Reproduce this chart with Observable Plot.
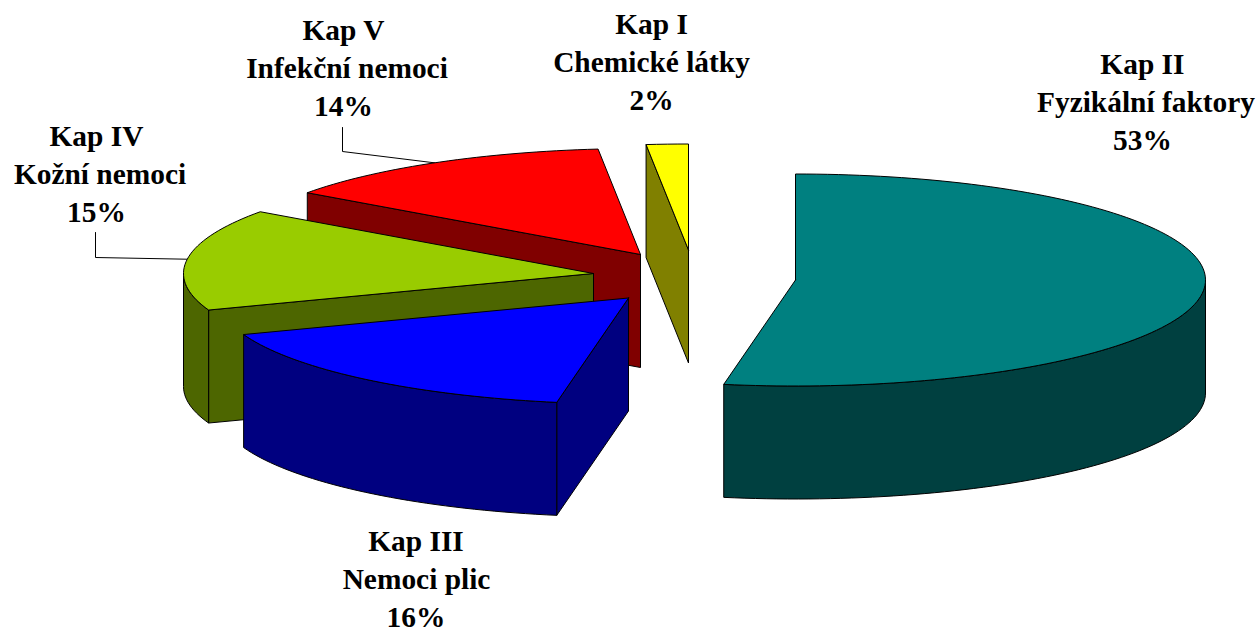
<!DOCTYPE html>
<html>
<head>
<meta charset="utf-8">
<script src="https://cdn.jsdelivr.net/npm/d3@7"></script>
<script src="https://cdn.jsdelivr.net/npm/@observablehq/plot@0.6"></script>
<style>html,body{margin:0;padding:0;background:#fff}svg{display:block}</style>
</head>
<body>
<div id="chart"></div>
<script>
// Data, in the pie's clockwise order from 12 o'clock
const chapters = ["Kap II", "Kap III", "Kap IV", "Kap V", "Kap I"];
const topics = ["Fyzikální faktory", "Nemoci plic", "Kožní nemoci", "Infekční nemoci", "Chemické látky"];
const percentLabels = ["53%", "16%", "15%", "14%", "2%"];
// shares as the drawn slices measure
const shares = [52.8, 16.6, 15.5, 13.45, 1.65];
const topColors = ["#008080", "#0000ff", "#99cc00", "#ff0000", "#ffff00"];
const sideColors = ["#004040", "#000080", "#4d6600", "#800000", "#808000"];

// Layout (separate from the data)
const W = 1260, H = 632;
const RX = 410, RY = 106, DEPTH = 113;
const apexX = [795, 628, 593, 640, 688];
const apexY = [279.5, 297.5, 273, 254, 249.5];
const labelX = [1145.5, 416, 99.5, 346.5, 651];
const labelY = [102, 579, 174, 68, 62];
const outerLineShift = [-3.6, -0.5, -3.6, -3.6, 0];
const LINE_STEP = 38;
const leaderFromX = [null, null, 95, 342, null];
const leaderFromY = [null, null, 232, 127, null];
const leaderElbowY = [null, null, 257, 151, null];

const rad = (a) => a * Math.PI / 180;
const rim = (i, a, dz = 0) => ({
  x: apexX[i] + RX * Math.sin(rad(a)),
  y: apexY[i] - RY * Math.cos(rad(a)) + dz
});
const arc = (i, a0, a1, dz = 0) => {
  const n = Math.max(2, Math.ceil(Math.abs(a1 - a0) / 1.5));
  return d3.range(n + 1).map((k) => rim(i, a0 + (a1 - a0) * k / n, dz));
};
const close = (pts) => [...pts, pts[0]];

let cum = 0;
const slices = shares.map((s, i) => {
  const a0 = cum * 3.6; cum += s; const a1 = cum * 3.6;
  return {i, a0, a1};
});

const face = (pts, fill) => Plot.line(close(pts), {
  x: "x", y: "y", fill, stroke: "black", strokeWidth: 1,
  strokeLinejoin: "round", strokeMiterlimit: 4
});

const sliceMarks = (s) => {
  const {i, a0, a1} = s;
  const apex = {x: apexX[i], y: apexY[i]};
  const out = [];
  // cut face at the slice's start edge, when it faces the viewer
  if (Math.sin(rad(a0)) < -1e-6) {
    const p = rim(i, a0);
    out.push(face([apex, p, {x: p.x, y: p.y + DEPTH}, {x: apex.x, y: apex.y + DEPTH}], sideColors[i]));
  }
  // outer wall: the part of the rim on the near half of the ellipse
  const w0 = Math.max(a0, 90), w1 = Math.min(a1, 270);
  if (w1 > w0) {
    out.push(face([...arc(i, w0, w1), ...arc(i, w1, w0, DEPTH)], sideColors[i]));
  }
  out.push(face([apex, ...arc(i, a0, a1)], topColors[i]));
  return out;
};

const leaderMarks = slices.filter((s) => leaderFromX[s.i] != null).map((s) => {
  const i = s.i;
  const end = rim(i, (s.a0 + s.a1) / 2);
  return Plot.line([
    {x: leaderFromX[i], y: leaderFromY[i]},
    {x: leaderFromX[i], y: leaderElbowY[i]},
    end
  ], {x: "x", y: "y", stroke: "black", strokeWidth: 1});
});

const labels = chapters.flatMap((c, i) => [
  {x: labelX[i] + outerLineShift[i], y: labelY[i] - LINE_STEP, text: c},
  {x: labelX[i], y: labelY[i], text: topics[i]},
  {x: labelX[i] + outerLineShift[i], y: labelY[i] + LINE_STEP, text: percentLabels[i]}
]);

const drawOrder = [4, 3, 2, 1, 0];

const chart = Plot.plot({
  width: W, height: H,
  margin: 0,
  x: {domain: [0, W], range: [0, W], axis: null},
  y: {domain: [0, H], range: [0, H], axis: null},
  style: {background: "#fff"},
  marks: [
    ...leaderMarks,
    ...drawOrder.flatMap((i) => sliceMarks(slices[i])),
    Plot.text(labels, {
      x: "x", y: "y", text: "text",
      fontFamily: "'Liberation Serif', serif",
      fontWeight: "bold", fontSize: 29.4,
      fill: "black", textAnchor: "middle"
    })
  ]
});
document.getElementById("chart").append(chart);
</script>
</body>
</html>
